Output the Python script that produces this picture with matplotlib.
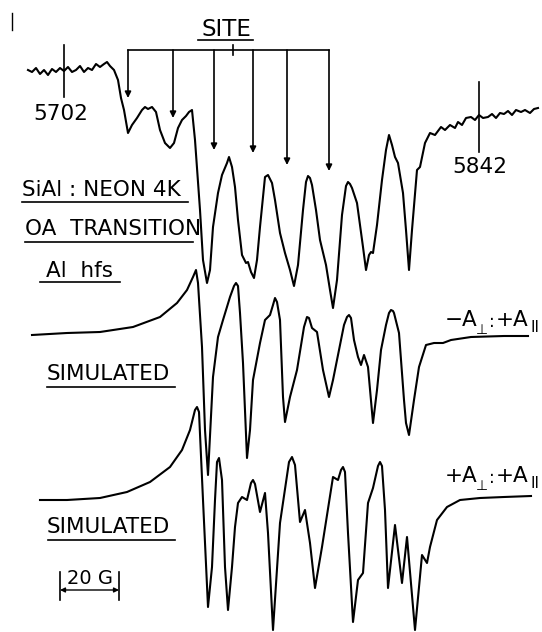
#!/usr/bin/env python3
"""
Redraw of the SiAl / neon 4K ESR figure: observed OA transition (Al hfs)
plus two simulated spectra (-A_perp:+A_par and +A_perp:+A_par).
Traces are digitised in page coordinates (x to the right, y downwards).
"""
import matplotlib.pyplot as plt

# observed spectrum
obs_x = [28, 32, 36, 40, 44, 48, 52, 56, 60, 64, 68, 72, 76, 80, 84, 88, 92, 96, 100,
         104, 107, 110, 114, 118, 121, 124, 128, 132, 137, 142, 145, 148, 152, 156, 160,
         165, 170, 174, 178, 182, 186, 189, 192, 195, 200, 203, 207, 210, 213, 218, 222,
         227, 229, 232, 235, 238, 242, 246, 248, 251, 254, 257, 260, 265, 268, 272, 275,
         280, 285, 290, 294, 298, 303, 306, 308, 310, 312, 316, 320, 326, 330, 333, 337,
         342, 346, 348, 350, 352, 357, 363, 366, 369, 371, 373, 377, 382, 386, 389, 392,
         395, 398, 403, 406, 409, 412, 417, 420, 425, 430, 435, 441, 445, 450, 455, 458,
         462, 466, 471, 475, 479, 483, 488, 492, 496, 500, 504, 508, 512, 516, 521, 525,
         530, 534, 538]
obs_y = [70, 72, 68, 74, 70, 75, 69, 72, 68, 71, 67, 72, 70, 66, 72, 68, 70, 64, 67,
         64, 62, 66, 70, 80, 98, 110, 133, 125, 118, 110, 107, 109, 107, 112, 130,
         143, 148, 143, 128, 120, 116, 112, 110, 140, 210, 260, 283, 270, 227, 193, 175,
         163, 157, 167, 187, 220, 255, 263, 262, 272, 278, 260, 227, 177, 175, 183, 200,
         233, 253, 270, 286, 265, 210, 182, 176, 178, 185, 210, 240, 265, 290, 308, 280,
         215, 186, 182, 184, 188, 203, 247, 270, 255, 252, 253, 225, 180, 150, 135, 145,
         157, 163, 193, 230, 270, 230, 170, 167, 143, 133, 135, 127, 130, 125, 128, 122,
         125, 118, 117, 120, 115, 118, 117, 114, 118, 113, 114, 111, 115, 110, 112, 110,
         113, 109, 108]

# simulated, -A_perp : +A_par
sim1_x = [32, 67, 100, 133, 160, 177, 187, 193, 196, 198, 202, 205, 208, 213, 218, 223,
          230, 234, 236, 238, 240, 243, 247, 250, 253, 260, 265, 270, 273, 275, 277, 280,
          283, 285, 290, 297, 304, 307, 309, 312, 317, 323, 329, 333, 339, 344, 347, 349,
          351, 354, 358, 361, 364, 368, 373, 377, 381, 386, 389, 391, 393, 394, 399, 404,
          406, 409, 414, 419, 426, 434, 443, 451, 471, 504, 528]
sim1_y = [335, 333, 332, 327, 317, 303, 290, 277, 270, 283, 347, 430, 475, 377, 337, 320,
          297, 286, 283, 286, 313, 363, 458, 430, 380, 343, 320, 315, 305, 298, 302, 320,
          397, 422, 397, 370, 327, 317, 318, 328, 332, 370, 397, 380, 350, 325, 317, 315,
          318, 340, 357, 365, 355, 367, 423, 390, 350, 325, 313, 310, 311, 313, 333, 400,
          423, 435, 400, 367, 345, 343, 343, 340, 337, 336, 336]

# simulated, +A_perp : +A_par
sim2_x = [40, 67, 100, 127, 150, 170, 182, 190, 195, 197, 199, 203, 208, 212, 215, 217,
          219, 222, 225, 228, 232, 235, 238, 242, 247, 251, 253, 255, 260, 265, 268, 273,
          280, 289, 292, 295, 300, 305, 310, 315, 322, 333, 338, 341, 343, 345, 348, 353,
          358, 363, 368, 373, 378, 380, 382, 385, 388, 395, 402, 407, 415, 422, 427, 430,
          437, 447, 460, 480, 504, 531]
sim2_y = [500, 500, 498, 492, 482, 467, 450, 430, 410, 407, 412, 500, 607, 567, 500, 462,
          458, 480, 567, 610, 567, 527, 503, 497, 500, 483, 480, 484, 512, 493, 533, 630,
          523, 462, 457, 465, 522, 510, 543, 588, 547, 477, 480, 470, 467, 472, 533, 622,
          580, 573, 503, 488, 466, 462, 466, 510, 588, 525, 583, 537, 630, 555, 563, 547,
          520, 507, 500, 498, 497, 496]

# field markers (gauss) and site arrows
marker_x = [64, 479]
marker_labels = ["5702", "5842"]
site_x = [128, 173, 214, 253, 287, 329]
site_tip_y = [98, 118, 150, 153, 165, 171]

fig = plt.figure(figsize=(5.42, 6.32), dpi=100)
ax = fig.add_axes([0, 0, 1, 1])
ax.set_xlim(0, 542)
ax.set_ylim(632, 0)
ax.axis("off")

lw = 1.5
for xs, ys in [(obs_x, obs_y), (sim1_x, sim1_y), (sim2_x, sim2_y)]:
    ax.plot(xs, ys, color="black", lw=lw, solid_joinstyle="round")

fs = 15.5

# field markers
ax.plot([marker_x[0]] * 2, [45, 97], color="black", lw=1.2)
ax.plot([marker_x[1]] * 2, [82, 152], color="black", lw=1.2)
ax.text(61, 114, marker_labels[0], fontsize=fs, ha="center", va="center")
ax.text(480, 167, marker_labels[1], fontsize=fs, ha="center", va="center")

# SITE bracket with arrows
ax.plot([site_x[0], site_x[-1]], [50, 50], color="black", lw=1.2)
ax.plot([233, 233], [45, 55], color="black", lw=1.2)
for sx, ty in zip(site_x, site_tip_y):
    ax.annotate("", xy=(sx, ty), xytext=(sx, 50),
                arrowprops=dict(arrowstyle="-|>", color="black", lw=1.2,
                                mutation_scale=9, shrinkA=0, shrinkB=0))
ax.text(226, 30, "SITE", fontsize=16.5, ha="center", va="center")
ax.plot([198, 253], [40, 40], color="black", lw=1.2)

# left-hand labels with underlines
labels = [("SiAl : NEON 4K", 22, 190, 22, 188, 202),
          ("OA  TRANSITION", 25, 229, 25, 193, 242),
          ("Al  hfs", 46, 271, 40, 120, 282),
          ("SIMULATED", 47, 374, 47, 175, 387),
          ("SIMULATED", 47, 527, 48, 175, 540)]
for txt, tx, ty, ux0, ux1, uy in labels:
    ax.text(tx, ty, txt, fontsize=fs, ha="left", va="center")
    ax.plot([ux0, ux1], [uy, uy], color="black", lw=1.2)

# right-hand labels: sign, A, subscript perp, colon, +A, subscript parallel
for y0, sign in [(320, "\u2212"), (476, "+")]:
    ax.text(445, y0, sign + "A", fontsize=fs, ha="left", va="center")
    ax.text(476, y0 + 10, "\u22a5", fontsize=10, ha="left", va="center")
    ax.text(489, y0 + 2, ":", fontsize=12, ha="left", va="center")
    ax.text(496, y0, "+A", fontsize=fs, ha="left", va="center")
    ax.text(530, y0 + 8, "II", fontsize=11, ha="left", va="center")

# 20 G scale bar
ax.plot([60, 60], [572, 600], color="black", lw=1.2)
ax.plot([119, 119], [572, 600], color="black", lw=1.2)
ax.annotate("", xy=(60, 590), xytext=(119, 590),
            arrowprops=dict(arrowstyle="<|-|>", color="black", lw=1.0,
                            mutation_scale=7, shrinkA=0, shrinkB=0))
ax.text(90, 578, "20 G", fontsize=14, ha="center", va="center")

# stray mark at top left of the scan
ax.plot([12, 12], [13, 30], color="black", lw=1.0)

fig.savefig("out.png", dpi=100)
